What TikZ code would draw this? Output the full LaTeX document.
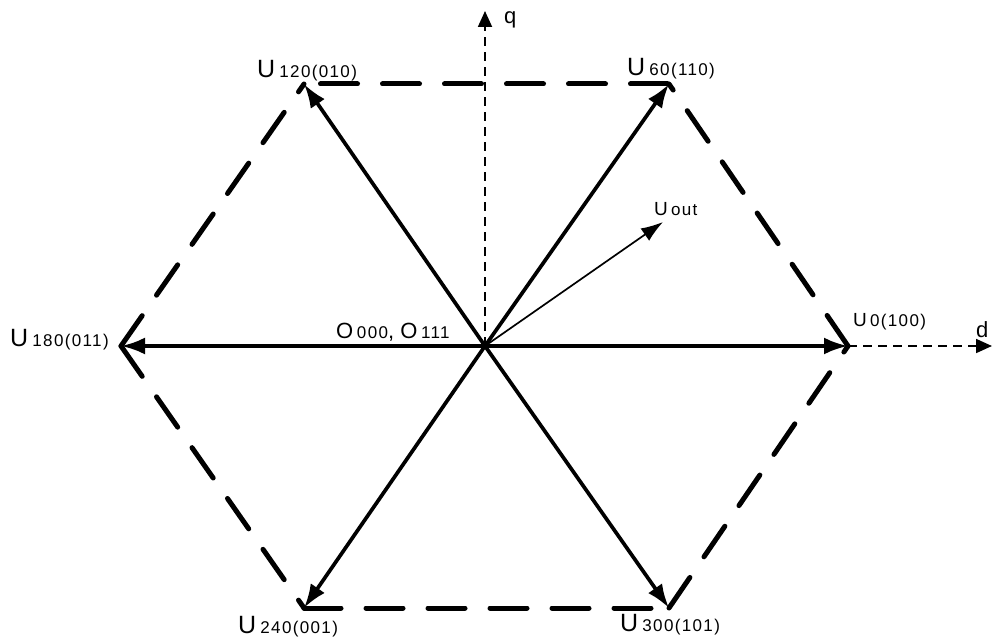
\documentclass[tikz,border=0pt]{standalone}
\usepackage{fontspec}
\setmainfont{Liberation Sans}
\newfontfamily\subfont[LetterSpace=8]{Liberation Sans}
\usetikzlibrary{arrows.meta}
\newcommand{\sbs}[1]{{\subfont\fontsize{17}{19}\selectfont #1}}
\tikzset{
  hexedge/.style={line width=5pt, line cap=round, dash pattern=on 37pt off 25pt},
  vec/.style={line width=3.7pt, -{Latex[length=24pt,width=17pt]}},
  thinvec/.style={line width=1.7pt, -{Latex[length=22pt,width=15pt]}},
  axis/.style={line width=1.8pt, dash pattern=on 9pt off 6pt, -{Triangle[length=16pt,width=14pt]}},
  lab/.style={inner sep=0pt, anchor=base west, font=\fontsize{25}{27}\selectfont},
  labm/.style={inner sep=0pt, anchor=base west, font=\fontsize{22}{24}\selectfont},
  labs/.style={inner sep=0pt, anchor=base west, font=\fontsize{19}{21}\selectfont}
}
\begin{document}
\begin{tikzpicture}[x=1pt,y=-1pt]
\useasboundingbox (0,0) rectangle (993,639);
\coordinate (O) at (485,346);
\coordinate (V0) at (848,346);
\coordinate (V60) at (669,84);
\coordinate (V120) at (304,84);
\coordinate (V180) at (121,346);
\coordinate (V240) at (304,608);
\coordinate (V300) at (669,608);
\coordinate (Uo) at (663,222);
\coordinate (qend) at (485,11);
\coordinate (dend) at (992,346);
% axes
\draw[axis] (O) -- (qend);
\draw[axis] (V0) -- (dend);
% hexagon
\draw[hexedge, dash phase=45.5pt] (V120) -- (V60);
\draw[hexedge] (V0) -- (V60);
\draw[hexedge] (V300) -- (V0);
\draw[hexedge] (V240) -- (V300);
\draw[hexedge] (V180) -- (V240);
\draw[hexedge] (V180) -- (V120);
% vectors
\draw[vec] (O) -- (V0);
\draw[vec] (O) -- (V60);
\draw[vec] (O) -- (V120);
\draw[vec] (O) -- (V180);
\draw[vec] (O) -- (V240);
\draw[vec] (O) -- (V300);
\draw[thinvec] (O) -- (Uo);
% labels
\node[lab] (l120) at (257,78) {U\,\sbs{120(010)}};
\node[lab] (l60) at (627,76) {U\,\sbs{60(110)}};
\node[lab] (l180) at (10,346) {U\,\sbs{180(011)}};
\node[labs] (l0) at (853,326) {U\,\sbs{0(100)}};
\node[lab] (l240) at (238,633) {U\,\sbs{240(001)}};
\node[lab] (l300) at (620,631) {U\,\sbs{300(101)}};
\node[labm] (lO) at (336,338) {O\,\sbs{000}, O\,\sbs{111}};
\node[labs] (lout) at (654,215) {U\,\sbs{out}};
\node[labm] (ld) at (976,337) {d};
\node[labm] (lq) at (504,24) {q};
\end{tikzpicture}
\end{document}
